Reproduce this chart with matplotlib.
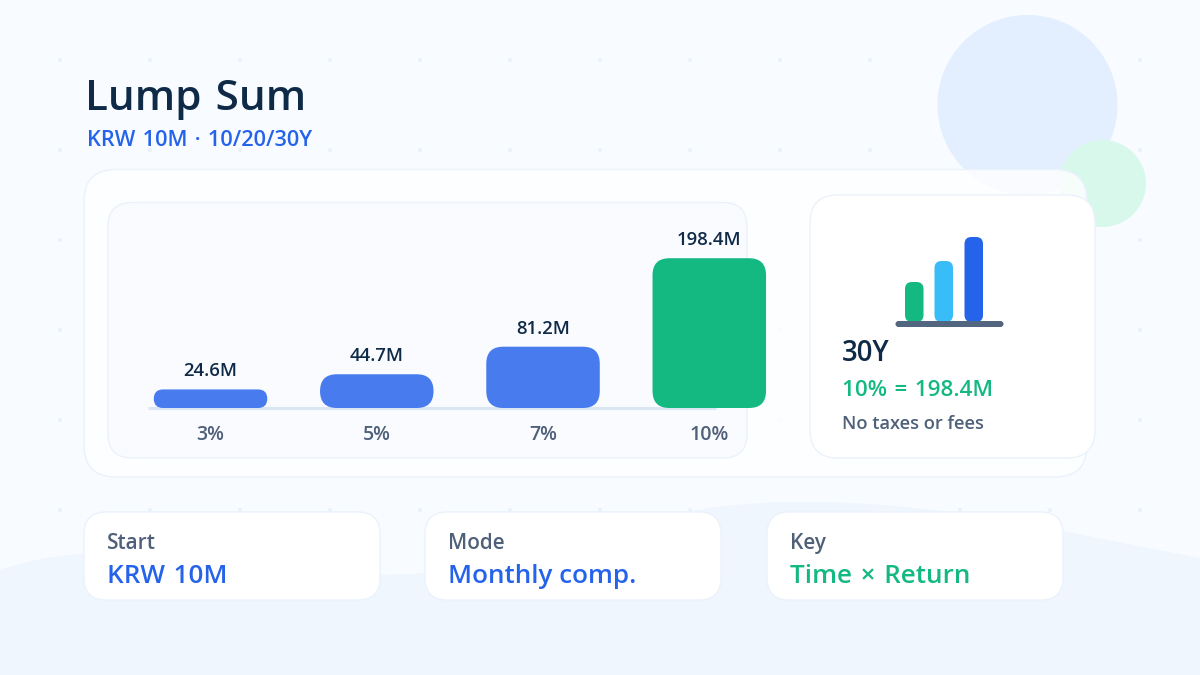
import matplotlib
matplotlib.use("Agg")
import matplotlib.pyplot as plt
from matplotlib.patches import FancyBboxPatch, Circle, PathPatch
from matplotlib.path import Path
from matplotlib.colors import to_rgba

NAVY = "#0f2a47"
SLATE = "#4f6079"
BLUE = "#2563eb"
GREEN = "#14b981"
SKY = "#38bdf8"
BAR_BLUE = "#487bed"
LINE = "#ebf2fb"

rates = ["3%", "5%", "7%", "10%"]
values = [24.6, 44.7, 81.2, 198.4]
bar_colors = [BAR_BLUE, BAR_BLUE, BAR_BLUE, GREEN]

icon_heights = [40, 61, 85]
icon_colors = [GREEN, SKY, BLUE]

tile_labels = ["Start", "Mode", "Key"]
tile_values = ["KRW\u200410M", "Monthly comp.", "Time\u2004×\u2004Return"]
tile_colors = [BLUE, BLUE, GREEN]

plt.rcParams["font.family"] = ["Open Sans", "DejaVu Sans"]

fig = plt.figure(figsize=(12, 6.75), dpi=100)
fig.patch.set_facecolor("#f8fbff")

# page axes, one unit = one pixel, y pointing down
bg = fig.add_axes([0, 0, 1, 1])
bg.set_xlim(0, 1200)
bg.set_ylim(675, 0)
bg.axis("off")


def card(x0, y0, x1, y1, r, fc, ec=LINE, lw=1.0, alpha=1.0, z=3):
    bg.add_patch(FancyBboxPatch((x0, y0), x1 - x0, y1 - y0,
                                boxstyle=f"round,pad=0,rounding_size={r}",
                                fc=to_rgba(fc, alpha), ec=ec, lw=lw, zorder=z))


def px_text(x, y, s, size, color, weight=600, z=8):
    # size in pixels, y is the baseline
    bg.text(x, y, s, fontsize=size * 0.72, color=color, fontweight=weight,
            ha="left", va="baseline", zorder=z)


# dot grid
for gx in range(60, 1200, 90):
    for gy in range(60, 600, 90):
        bg.add_patch(Circle((gx, gy), 2, fc="#e9f1fa", ec="none", zorder=1))

# pale wave at the bottom of the page
verts = [(0, 570), (60, 548), (150, 548), (240, 562),
         (300, 572), (360, 578), (425, 573),
         (530, 563), (640, 503), (790, 502),
         (940, 500), (1060, 532), (1200, 558),
         (1200, 675), (0, 675), (0, 570)]
codes = [Path.MOVETO] + [Path.CURVE4] * 12 + [Path.LINETO] * 3
bg.add_patch(PathPatch(Path(verts, codes), fc="#eff6fe", ec="none", zorder=1.5))

# corner circles
bg.add_patch(Circle((1027.5, 105), 90, fc="#e3effe", ec="none", zorder=2))
bg.add_patch(Circle((1102.5, 183.5), 43.5, fc="#d9f8ec", ec="none", zorder=2.1))

# header
px_text(85, 110, "Lump\u2004Sum", 42.3, NAVY)
px_text(87, 146, "KRW\u200410M\u2004·\u200410/20/30Y", 21.8, BLUE)

# main panels
card(84, 169.5, 1087, 477, 32, "#ffffff", alpha=0.8)
card(108, 202.5, 747, 458, 24, "#f9fbff", z=3.2)
bg.plot([148, 716], [408, 408], color="#dbe6f5", lw=2.2, solid_capstyle="butt", zorder=3.5)
card(810, 195, 1095, 458, 28, "#ffffff", z=3.4)

# bar chart, same pixel scale as the panel drawn behind it
PX_LEFT, PX_RIGHT, PX_BASE, PX_TOP = 127.4, 792.4, 408, 257
chart = fig.add_axes([PX_LEFT / 1200, 1 - PX_BASE / 675,
                      (PX_RIGHT - PX_LEFT) / 1200, (PX_BASE - PX_TOP) / 675],
                     zorder=5)
chart.patch.set_alpha(0)
chart.set_xlim(-0.5, 3.5)
chart.set_ylim(0, 200)
chart.axis("off")

px_per_x = (PX_RIGHT - PX_LEFT) / 4
px_per_val = (PX_BASE - PX_TOP) / 200
bar_w = 113.5 / px_per_x

for i, (v, lab, c) in enumerate(zip(values, rates, bar_colors)):
    h_px = v * px_per_val
    r_px = min(17, h_px / 2)
    chart.add_patch(FancyBboxPatch(
        (i - bar_w / 2, 0), bar_w, v,
        boxstyle=f"round,pad=0,rounding_size={r_px / px_per_x}",
        mutation_aspect=px_per_x / px_per_val,
        fc=c, ec="none", clip_on=False))
    chart.annotate(f"{v}M", (i, v), xytext=(0, 13), textcoords="offset pixels",
                   ha="center", va="baseline", fontsize=18.5 * 0.72, color=NAVY,
                   fontweight=600, annotation_clip=False)
    chart.annotate(lab, (i, 0), xytext=(0, -32), textcoords="offset pixels",
                   ha="center", va="baseline", fontsize=19.5 * 0.72, color=SLATE,
                   fontweight=600, annotation_clip=False)

# small bar glyph in the side card
for x0, h, c in zip([905, 934.5, 964.5], icon_heights, icon_colors):
    card(x0, 322 - h, x0 + 18.5, 322, 7, c, ec="none", lw=0, z=4)
card(895.5, 321, 1003.5, 327, 3, "#53667f", ec="none", lw=0, z=4.1)

px_text(842, 361, "30Y", 27.5, NAVY)
px_text(842, 396, "10%\u2004=\u2004198.4M", 22.4, GREEN)
px_text(842, 429, "No taxes or fees", 18.3, SLATE)

# bottom tiles
for x0, lab, val, c in zip([84, 425, 767], tile_labels, tile_values, tile_colors):
    card(x0, 512, x0 + 296, 600, 22, "#ffffff")
    px_text(x0 + 22.5, 549, lab, 20.8, SLATE)
    px_text(x0 + 23, 583, val, 26, c)

fig.savefig("out.png", dpi=100)
